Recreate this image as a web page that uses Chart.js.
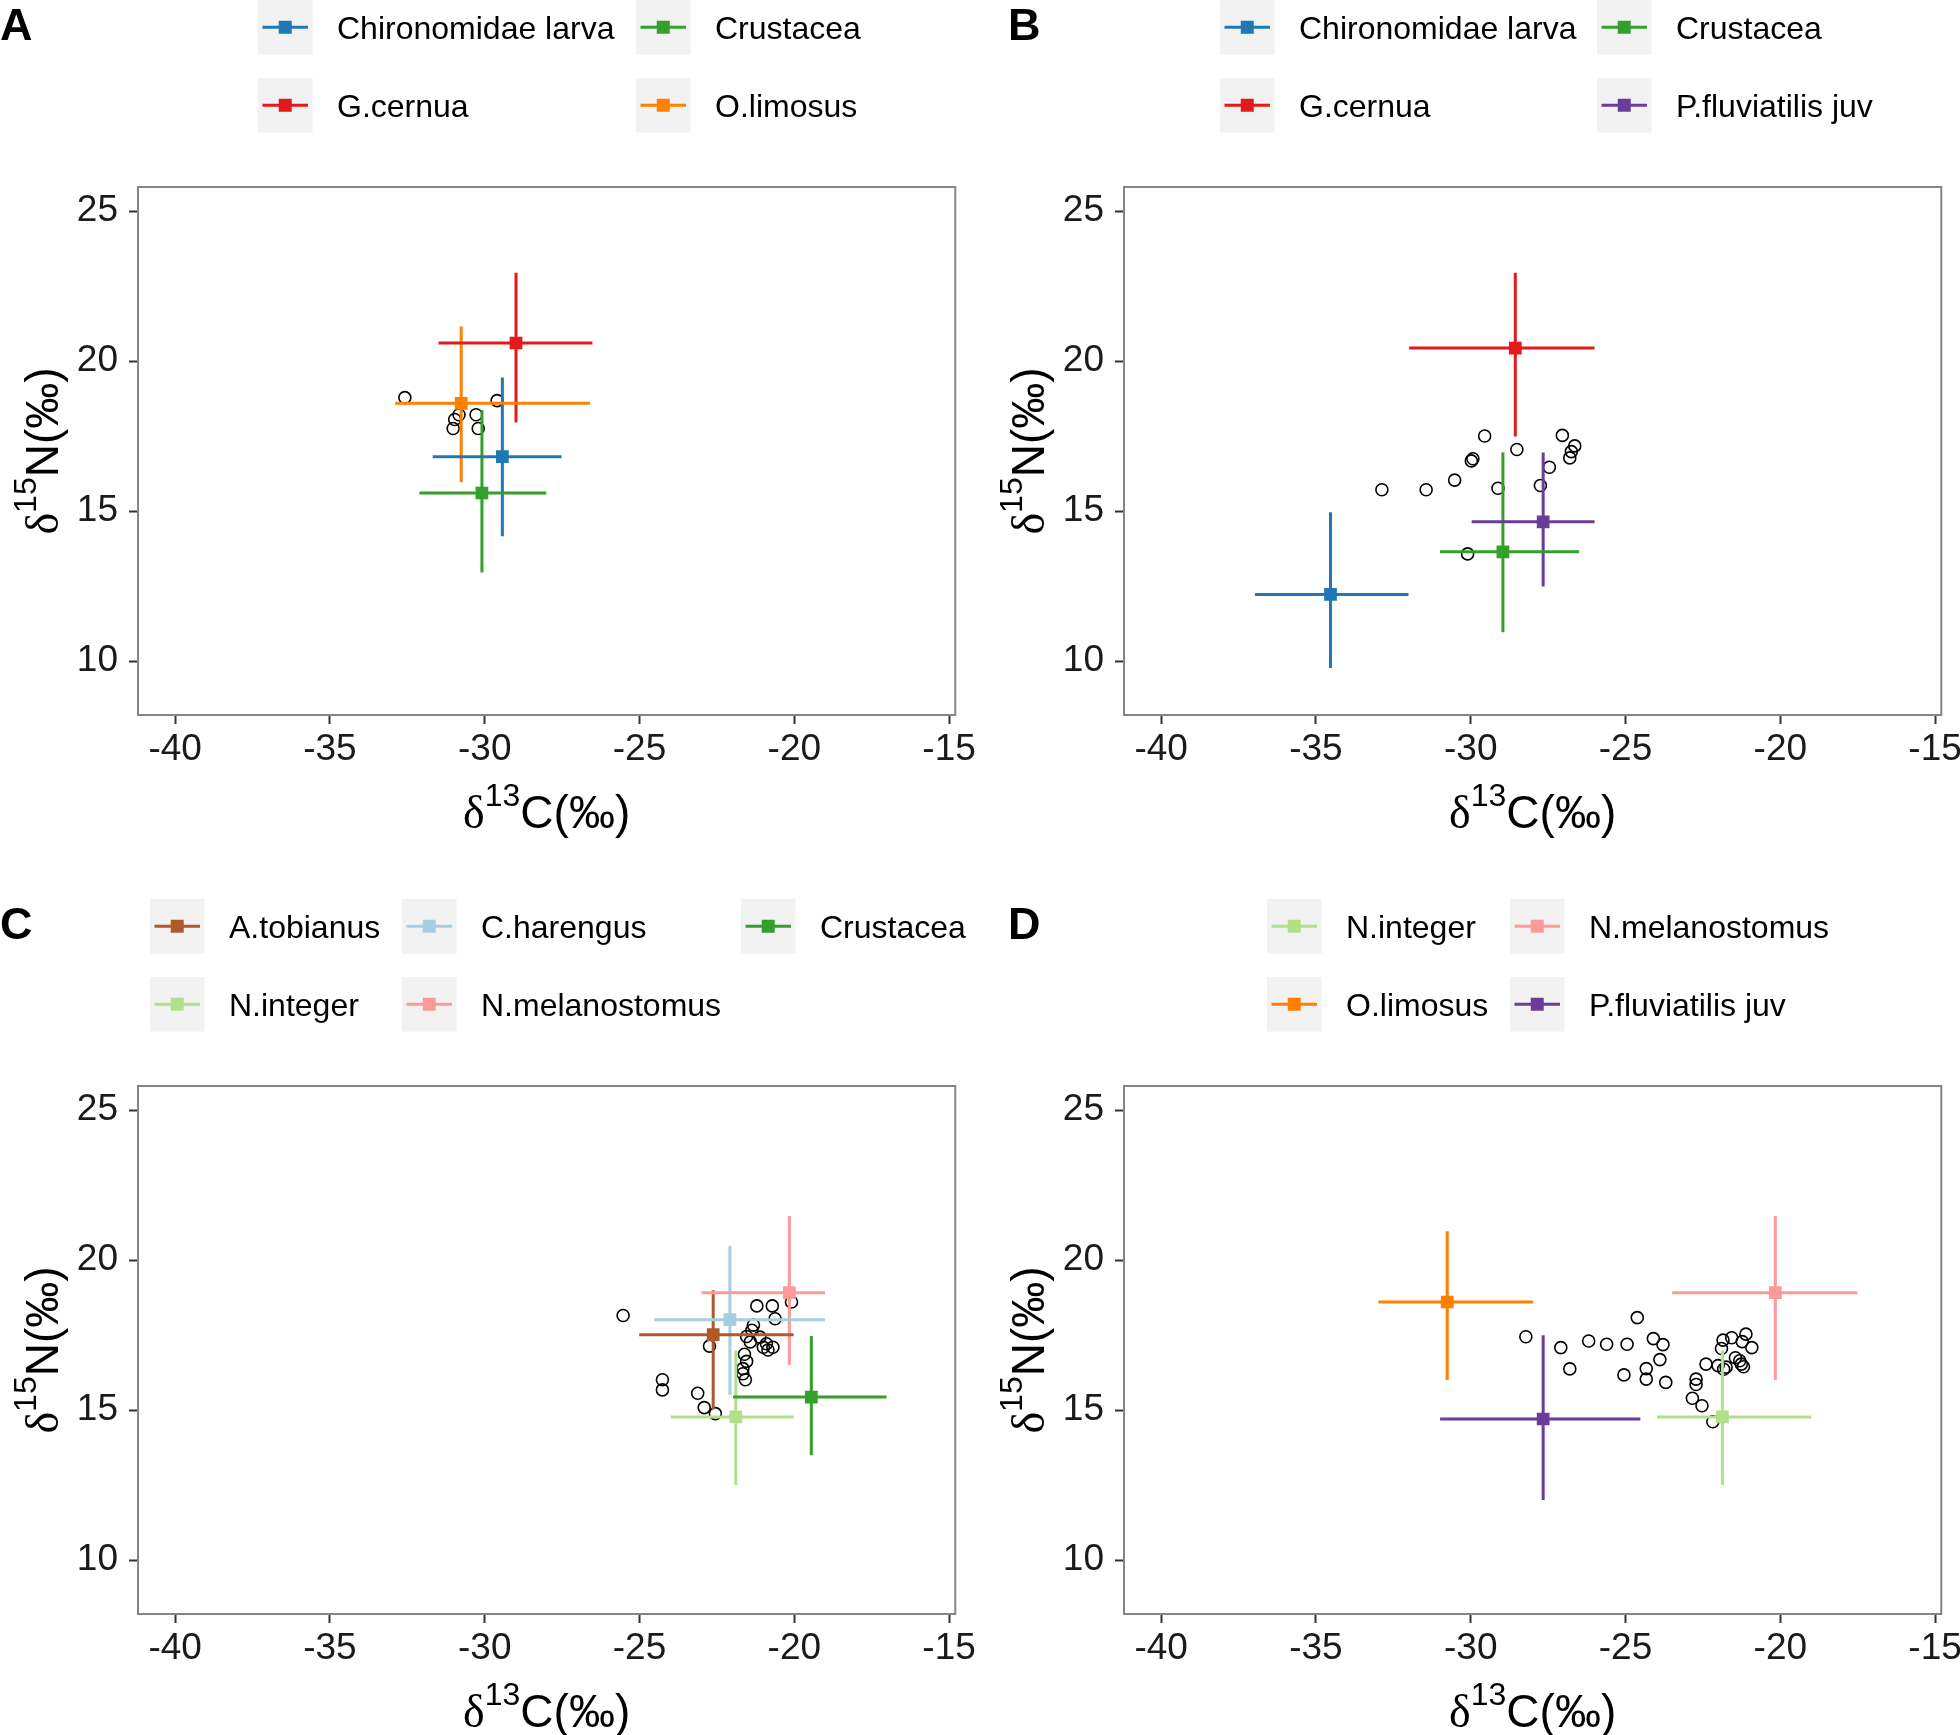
<!DOCTYPE html>
<html>
<head>
<meta charset="utf-8">
<script src="https://cdn.jsdelivr.net/npm/chart.js"></script>
<style>
  body { margin: 0; width: 1960px; height: 1735px; overflow: hidden; background: #fff; position: relative; }
  .panel { position: absolute; width: 980px; height: 899px; }
</style>
</head>
<body>
<div class="panel" style="left:0;top:0"><canvas id="chartA" width="980" height="899"></canvas></div>
<div class="panel" style="left:986px;top:0"><canvas id="chartB" width="980" height="899"></canvas></div>
<div class="panel" style="left:0;top:899px"><canvas id="chartC" width="980" height="899"></canvas></div>
<div class="panel" style="left:986px;top:899px"><canvas id="chartD" width="980" height="899"></canvas></div>
<script>
// axis ticks (shared by all four panels)
var xTicks = [-40, -35, -30, -25, -20, -15];
var yTicks = [10, 15, 20, 25];

// panel A
var groupsA = ["Chironomidae larva", "Crustacea", "G.cernua", "O.limosus"];
var meanXA = [-29.43, -30.09, -28.99, -30.76];
var meanYA = [16.81, 15.60, 20.60, 18.59];
var lowXA = [-31.68, -32.11, -31.49, -32.89];
var highXA = [-27.52, -28.01, -26.52, -26.60];
var lowYA = [14.16, 12.95, 17.95, 15.96];
var highYA = [19.45, 18.37, 22.94, 21.15];
var consXA = [-32.58, -29.60, -30.83, -30.28, -30.97, -31.02, -30.21];
var consYA = [18.78, 18.68, 18.21, 18.21, 18.05, 17.75, 17.75];

// panel B
var groupsB = ["Chironomidae larva", "Crustacea", "G.cernua", "P.fluviatilis juv"];
var meanXB = [-34.53, -28.96, -28.56, -27.66];
var meanYB = [12.22, 13.64, 20.43, 14.64];
var lowXB = [-36.97, -30.99, -31.99, -29.97];
var highXB = [-32.01, -26.50, -26.00, -26.00];
var lowYB = [9.77, 10.96, 17.48, 12.48];
var highYB = [14.96, 16.95, 22.94, 16.95];
var consXB = [-29.55, -27.04, -28.51, -26.64, -26.75, -26.80, -29.93, -29.98, -27.46, -30.52, -32.87, -31.44, -29.12, -27.75, -30.10];
var consYB = [17.50, 17.52, 17.05, 17.17, 16.98, 16.77, 16.74, 16.67, 16.46, 16.03, 15.71, 15.71, 15.76, 15.85, 13.57];

// panel C
var groupsC = ["A.tobianus", "C.harengus", "Crustacea", "N.integer", "N.melanostomus"];
var meanXC = [-22.62, -22.08, -19.45, -21.89, -20.16];
var meanYC = [17.51, 18.01, 15.43, 14.77, 18.91];
var lowXC = [-25.01, -24.52, -21.98, -23.99, -23.00];
var highXC = [-20.02, -19.01, -17.02, -20.02, -19.01];
var lowYC = [15.02, 15.50, 13.49, 12.50, 16.50];
var highYC = [18.99, 20.47, 17.47, 16.98, 21.47];
var consXC = [-25.53, -21.21, -20.71, -20.09, -20.62, -21.32, -21.37, -21.54, -21.11, -21.42, -20.90, -21.00, -20.69, -20.85, -22.74, -21.61, -21.54, -21.66, -21.66, -21.58, -24.26, -24.26, -23.12, -22.91, -22.55];
var consYC = [18.15, 18.47, 18.47, 18.60, 18.04, 17.83, 17.66, 17.45, 17.43, 17.27, 17.21, 17.09, 17.09, 17.00, 17.13, 16.86, 16.62, 16.38, 16.21, 16.01, 16.01, 15.67, 15.56, 15.08, 14.88];

// panel D
var groupsD = ["N.integer", "N.melanostomus", "O.limosus", "P.fluviatilis juv"];
var meanXD = [-21.87, -20.16, -30.76, -27.66];
var meanYD = [14.77, 18.91, 18.60, 14.70];
var lowXD = [-23.98, -23.49, -32.98, -30.99];
var highXD = [-19.00, -17.51, -27.99, -24.52];
var lowYD = [12.50, 16.00, 16.00, 12.00];
var highYD = [16.98, 21.47, 20.96, 17.49];
var consXD = [-28.22, -27.09, -26.19, -25.61, -24.95, -24.62, -24.10, -23.79, -23.89, -26.80, -25.05, -24.33, -24.33, -23.70, -22.72, -22.72, -22.84, -22.53, -22.18, -22.40, -22.01, -21.83, -21.85, -21.57, -21.11, -21.23, -20.92, -21.90, -21.45, -21.31, -21.26, -21.19, -21.75];
var consYD = [17.44, 17.08, 17.30, 17.19, 17.19, 18.08, 17.38, 17.18, 16.68, 16.37, 16.17, 16.38, 16.03, 15.92, 16.03, 15.85, 15.39, 15.14, 14.61, 16.53, 16.48, 16.36, 17.33, 17.41, 17.53, 17.28, 17.08, 17.05, 16.74, 16.64, 16.53, 16.44, 16.43];

var palette = {
  "Chironomidae larva": "#1f78b4",
  "Crustacea": "#33a02c",
  "G.cernua": "#e31a1c",
  "O.limosus": "#ff7f00",
  "P.fluviatilis juv": "#6a3d9a",
  "A.tobianus": "#b15928",
  "C.harengus": "#a6cee3",
  "N.integer": "#b2df8a",
  "N.melanostomus": "#fb9a99"
};

var SANS = '"Liberation Sans", Arial, sans-serif';
var SERIF = '"Liberation Serif", "Times New Roman", serif';

function buildDatasets(groups, mx, my, lx, hx, ly, hy, cx, cy) {
  var ds = [];
  ds.push({
    label: "consumers",
    data: cx.map(function (x, i) { return { x: x, y: cy[i] }; }),
    pointStyle: "circle",
    pointRadius: 6,
    pointBorderWidth: 1.6,
    pointBackgroundColor: "rgba(0,0,0,0)",
    pointBorderColor: "#000",
    showLine: false,
    order: 40
  });
  groups.forEach(function (g, i) {
    var c = palette[g];
    ds.push({
      label: g + " sd N",
      data: [{ x: mx[i], y: ly[i] }, { x: mx[i], y: hy[i] }],
      showLine: true, borderColor: c, borderWidth: 3, pointRadius: 0, order: 30
    });
    ds.push({
      label: g + " sd C",
      data: [{ x: lx[i], y: my[i] }, { x: hx[i], y: my[i] }],
      showLine: true, borderColor: c, borderWidth: 3, pointRadius: 0, order: 20
    });
    ds.push({
      label: g,
      data: [{ x: mx[i], y: my[i] }],
      pointStyle: "rect", pointRadius: 9,
      pointBackgroundColor: c, pointBorderColor: c, pointBorderWidth: 0,
      showLine: false, order: 10
    });
  });
  return ds;
}

// text with a superscript, drawn left to right from x
function richText(ctx, parts) {
  var w = 0;
  parts.forEach(function (p) { ctx.font = p.font; w += ctx.measureText(p.t).width; });
  return w;
}
function drawRich(ctx, parts, x, y) {
  parts.forEach(function (p) {
    ctx.font = p.font;
    ctx.fillText(p.t, x, y + p.dy);
    x += ctx.measureText(p.t).width;
  });
}

function titleParts(sup, main) {
  return [
    { t: "\u03b4", font: "46px " + SERIF, dy: 0 },
    { t: sup, font: "32px " + SANS, dy: -22 },
    { t: main, font: "46px " + SANS, dy: 0 }
  ];
}

var decor = {
  id: "decor",
  afterDraw: function (chart) {
    var ctx = chart.ctx;
    var a = chart.chartArea;
    var o = chart.options.plugins.decor;
    ctx.save();

    // panel border
    ctx.strokeStyle = "#858585";
    ctx.lineWidth = 2;
    ctx.strokeRect(a.left, a.top, a.right - a.left, a.bottom - a.top);

    ctx.fillStyle = "#000";
    ctx.textBaseline = "alphabetic";

    // x title
    var xp = titleParts("13", "C(\u2030)");
    var xw = richText(ctx, xp);
    drawRich(ctx, xp, (a.left + a.right) / 2 - xw / 2, 828);

    // y title (rotated)
    var yp = titleParts("15", "N(\u2030)");
    var yw = richText(ctx, yp);
    ctx.save();
    ctx.translate(58, (a.top + a.bottom) / 2);
    ctx.rotate(-Math.PI / 2);
    drawRich(ctx, yp, -yw / 2, 0);
    ctx.restore();

    // panel letter
    ctx.font = "bold 45px " + SANS;
    ctx.fillText(o.letter, o.letterX, 40);

    // legend
    var box = 54.5;
    o.groups.forEach(function (g, i) {
      var col = i % o.cols.length;
      var row = Math.floor(i / o.cols.length);
      var bx = o.cols[col];
      var by = row * 78;
      ctx.fillStyle = "#f2f2f2";
      ctx.fillRect(bx, by, box, box);
      var c = palette[g];
      ctx.strokeStyle = c;
      ctx.lineWidth = 3;
      ctx.beginPath();
      ctx.moveTo(bx + 4.5, by + box / 2);
      ctx.lineTo(bx + box - 4.5, by + box / 2);
      ctx.stroke();
      ctx.fillStyle = c;
      ctx.fillRect(bx + box / 2 - 6.5, by + box / 2 - 6.5, 13, 13);
      ctx.fillStyle = "#000";
      ctx.font = "32px " + SANS;
      ctx.textBaseline = "middle";
      ctx.fillText(g, bx + 79, by + box / 2 + 3);
      ctx.textBaseline = "alphabetic";
    });
    ctx.restore();
  }
};

function makeChart(id, letter, letterX, cols, groups, mx, my, lx, hx, ly, hy, cx, cy) {
  return new Chart(document.getElementById(id), {
    type: "scatter",
    data: { datasets: buildDatasets(groups, mx, my, lx, hx, ly, hy, cx, cy) },
    plugins: [decor],
    options: {
      responsive: false,
      animation: false,
      devicePixelRatio: 1,
      layout: { padding: { left: 0, right: 23, top: 187, bottom: 0 } },
      plugins: {
        legend: { display: false },
        tooltip: { enabled: false },
        decor: { letter: letter, letterX: letterX, cols: cols, groups: groups }
      },
      scales: {
        x: {
          type: "linear",
          min: -41.2,
          max: -14.8,
          afterBuildTicks: function (s) { s.ticks = xTicks.map(function (v) { return { value: v }; }); },
          afterFit: function (s) { s.height = 184; },
          border: { display: false },
          grid: { display: true, drawOnChartArea: false, drawTicks: true, tickLength: 9, tickColor: "#333", tickWidth: 2 },
          ticks: {
            font: { family: SANS, size: 37 },
            color: "#1a1a1a",
            padding: 4,
            maxRotation: 0,
            autoSkip: false,
            callback: function (v) { return String(v); }
          }
        },
        y: {
          type: "linear",
          min: 8.2,
          max: 25.8,
          afterBuildTicks: function (s) { s.ticks = yTicks.map(function (v) { return { value: v }; }); },
          afterFit: function (s) { s.width = 138; },
          border: { display: false },
          grid: { display: true, drawOnChartArea: false, drawTicks: true, tickLength: 9, tickColor: "#333", tickWidth: 2 },
          ticks: {
            font: { family: SANS, size: 37 },
            color: "#1a1a1a",
            padding: 11,
            autoSkip: false,
            callback: function (v) { return String(v); }
          }
        }
      }
    }
  });
}

makeChart("chartA", "A", 0, [258, 636], groupsA, meanXA, meanYA, lowXA, highXA, lowYA, highYA, consXA, consYA);
makeChart("chartB", "B", 22, [234, 611], groupsB, meanXB, meanYB, lowXB, highXB, lowYB, highYB, consXB, consYB);
makeChart("chartC", "C", 0, [150, 402, 741], groupsC, meanXC, meanYC, lowXC, highXC, lowYC, highYC, consXC, consYC);
makeChart("chartD", "D", 22, [281, 524], groupsD, meanXD, meanYD, lowXD, highXD, lowYD, highYD, consXD, consYD);
</script>
</body>
</html>
